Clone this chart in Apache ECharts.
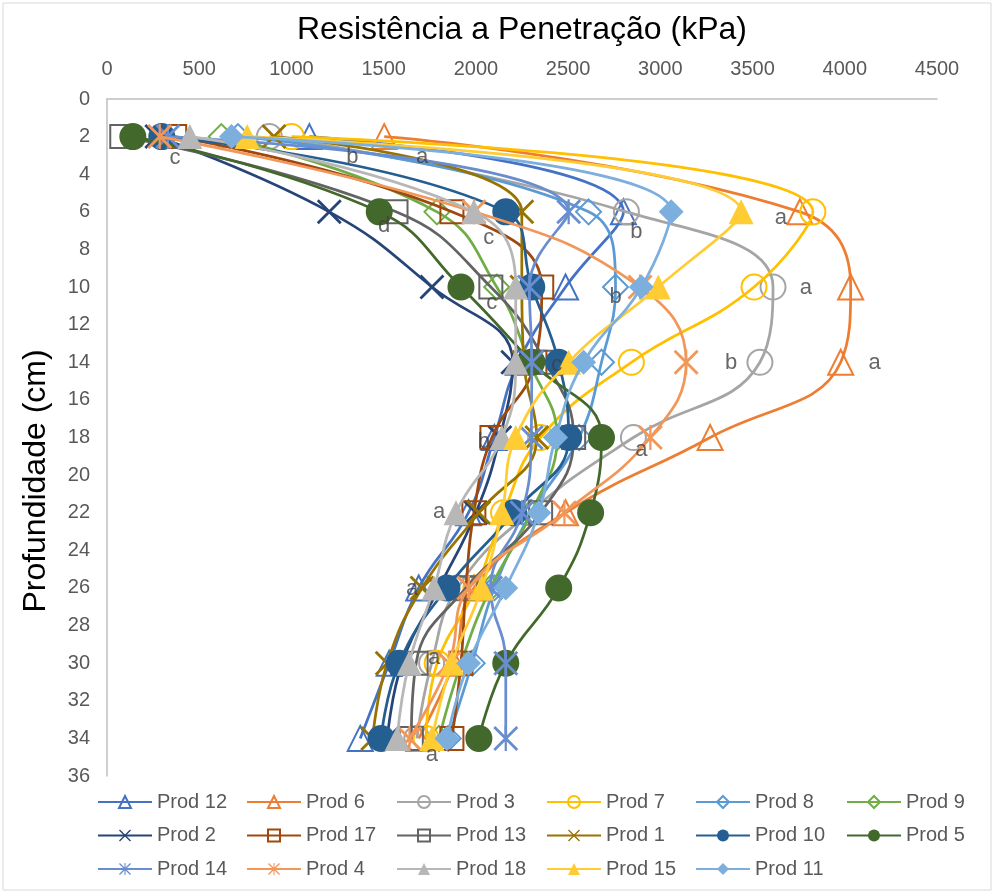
<!DOCTYPE html>
<html>
<head>
<meta charset="utf-8">
<script src="https://cdn.jsdelivr.net/npm/echarts@6/dist/echarts.min.js"></script>
<style>
html,body{margin:0;padding:0;background:#fff;}
#chart{width:995px;height:894px;}
</style>
</head>
<body>
<div id="chart"></div>
<script>
// Depth (cm) of each reading
const depths = [2, 6, 10, 14, 18, 22, 26, 30, 34];
// Resistance to penetration (kPa) per product, one value per depth
const prod12 = [1097, 2800, 2486, 2230, 2100, 1960, 1690, 1530, 1373];
const prod6  = [1503, 3757, 4032, 3978, 3270, 2486, 1990, 1880, 1690];
const prod3  = [880, 2816, 3611, 3540, 2854, 2290, 1900, 1760, 1680];
const prod7  = [1000, 3827, 3508, 2843, 2350, 2150, 2000, 1790, 1730];
const prod8  = [710, 2611, 2757, 2681, 2560, 2300, 2100, 1980, 1850];
const prod9  = [620, 1789, 2113, 2290, 2440, 2300, 2080, 1920, 1800];
const prod2  = [270, 1205, 1762, 2200, 2130, 2000, 1800, 1600, 1520];
const prod17 = [367, 1870, 2357, 2320, 2087, 1989, 1946, 1919, 1870];
const prod13 = [80, 1567, 2081, 2378, 2530, 2351, 1946, 1676, 1650];
const prod1  = [905, 2249, 2249, 2260, 2330, 2016, 1708, 1519, 1440];
const prod10 = [297, 2162, 2303, 2449, 2503, 2205, 1843, 1584, 1486];
const prod5  = [140, 1476, 1919, 2303, 2681, 2622, 2449, 2162, 2016];
const prod14 = [330, 2503, 2290, 2303, 2300, 2250, 2080, 2162, 2162];
const prod4  = [286, 1990, 2890, 3140, 2946, 2480, 1962, 1854, 1640];
const prod18 = [449, 1989, 2216, 2216, 2141, 1892, 1773, 1638, 1573];
const prod15 = [760, 3438, 2989, 2503, 2216, 2141, 2032, 1870, 1762];
const prod11 = [675, 3059, 2897, 2584, 2432, 2341, 2162, 1960, 1843];

const seriesNames = ['Prod 12','Prod 6','Prod 3','Prod 7','Prod 8','Prod 9',
  'Prod 2','Prod 17','Prod 13','Prod 1','Prod 10','Prod 5',
  'Prod 14','Prod 4','Prod 18','Prod 15','Prod 11'];
const seriesValues = [prod12, prod6, prod3, prod7, prod8, prod9,
  prod2, prod17, prod13, prod1, prod10, prod5,
  prod14, prod4, prod18, prod15, prod11];

// Letter annotations (text, kPa, depth)
const noteText  = ['c','b','a','d','c','a','b','c','b','a','b','a','c','b','a','a','a','a','a'];
const noteKpa   = [368,1330,1708,1503,2070,3654,2870,2086,2757,3789,3384,4162,2438,2043,2897,1800,1654,1773,1762];
const noteDepth = [3.14,3.09,3.09,6.76,7.4,6.33,7.07,10.85,10.53,10.05,14.04,14.04,14.15,18.24,18.67,21.97,26.05,29.7,34.9];

const xTicks = [0, 500, 1000, 1500, 2000, 2500, 3000, 3500, 4000, 4500];

// styling
const FONT = 'Liberation Sans, Arial, sans-serif';
const colors = ['#4472C4','#ED7D31','#A5A5A5','#FFC000','#5B9BD5','#70AD47',
  '#264478','#9E480E','#636363','#997300','#255E91','#43682B',
  '#698ED0','#F1975A','#B7B7B7','#FFCD33','#7CAFDD'];
const X_PATH = 'path://M0,0.8L0.8,0L5,4.2L9.2,0L10,0.8L5.8,5L10,9.2L9.2,10L5,5.8L0.8,10L0,9.2L4.2,5Z';
const STAR_PATH = 'path://M0,0.8L0.8,0L5,4.2L9.2,0L10,0.8L5.8,5L10,9.2L9.2,10L5,5.8L0.8,10L0,9.2L4.2,5Z M4.55,0L5.45,0L5.45,10L4.55,10Z';
const markers = [
  ['triangle', false], ['triangle', false], ['circle', false], ['circle', false], ['diamond', false], ['diamond', false],
  [X_PATH, true], ['rect', false], ['rect', false], [X_PATH, true], ['circle', true], ['circle', true],
  [STAR_PATH, true], [STAR_PATH, true], ['triangle', true], ['triangle', true], ['diamond', true]
];

const series = seriesNames.map((name, i) => {
  const c = colors[i];
  const [sym, filled] = markers[i];
  return {
    name: name,
    type: 'line',
    smooth: 0.45,
    data: depths.map((d, k) => [seriesValues[i][k], d]),
    symbol: sym,
    symbolSize: sym === 'circle' && filled ? 27 : (sym === 'rect' ? 23 : 25),
    symbolKeepAspect: true,
    lineStyle: { color: c, width: 2.75 },
    itemStyle: filled ? { color: c, borderWidth: 0 } : { color: 'rgba(255,255,255,0)', borderColor: c, borderWidth: 2 },
    emphasis: { disabled: true },
    clip: false,
    z: 2 + i * 0.01
  };
});

series.push({
  name: 'notes',
  type: 'scatter',
  data: noteText.map((t, i) => [noteKpa[i], noteDepth[i], t]),
  symbolSize: 1,
  itemStyle: { color: 'rgba(0,0,0,0)' },
  label: {
    show: true, position: 'inside',
    formatter: p => p.value[2],
    color: '#404040', fontSize: 22, fontFamily: FONT
  },
  silent: true,
  z: 10
});

// legend: one vertical legend per column (6 columns x 3 rows)
const legendCols = [97, 246, 396, 546, 695, 846];
const legends = legendCols.map((x, col) => ({
  left: x,
  top: 792,
  orient: 'vertical',
  padding: 0,
  itemWidth: 54,
  itemHeight: 15,
  itemGap: 13.5,
  textStyle: { color: '#595959', fontSize: 20, lineHeight: 20, fontFamily: FONT },
  selectedMode: false,
  data: seriesNames.filter((n, i) => i % 6 === col)
}));

const chart = echarts.init(document.getElementById('chart'), null, { renderer: 'canvas' });
chart.setOption({
  animation: false,
  backgroundColor: '#fff',
  grid: { left: 107, right: 58, top: 99, bottom: 118, containLabel: false },
  xAxis: {
    type: 'value', position: 'top',
    min: xTicks[0], max: xTicks[xTicks.length - 1], interval: 500,
    axisLine: { show: true, lineStyle: { color: '#BFBFBF', width: 1.5 } },
    axisTick: { show: false },
    splitLine: { show: false },
    axisLabel: { color: '#595959', fontSize: 20, margin: 20, fontFamily: FONT, formatter: v => String(v) }
  },
  yAxis: {
    type: 'value', inverse: true, min: 0, max: 36, interval: 2,
    axisLine: { show: true, lineStyle: { color: '#BFBFBF', width: 1.5 } },
    axisTick: { show: false },
    splitLine: { show: false },
    axisLabel: { color: '#595959', fontSize: 20, margin: 17, fontFamily: FONT }
  },
  legend: legends,
  graphic: [
    { type: 'rect', shape: { x: 3, y: 3, width: 988, height: 887 }, style: { fill: 'none', stroke: '#D9D9D9', lineWidth: 1 }, silent: true },
    { type: 'text', x: 522, y: 30, style: { text: 'Resistência a Penetração (kPa)', fill: '#000', fontSize: 32, fontFamily: FONT, align: 'center', verticalAlign: 'middle' } },
    { type: 'text', x: 36, y: 481, rotation: Math.PI / 2, style: { text: 'Profundidade (cm)', fill: '#000', fontSize: 32, fontFamily: FONT, align: 'center', verticalAlign: 'middle' } }
  ],
  series: series
});
</script>
</body>
</html>
